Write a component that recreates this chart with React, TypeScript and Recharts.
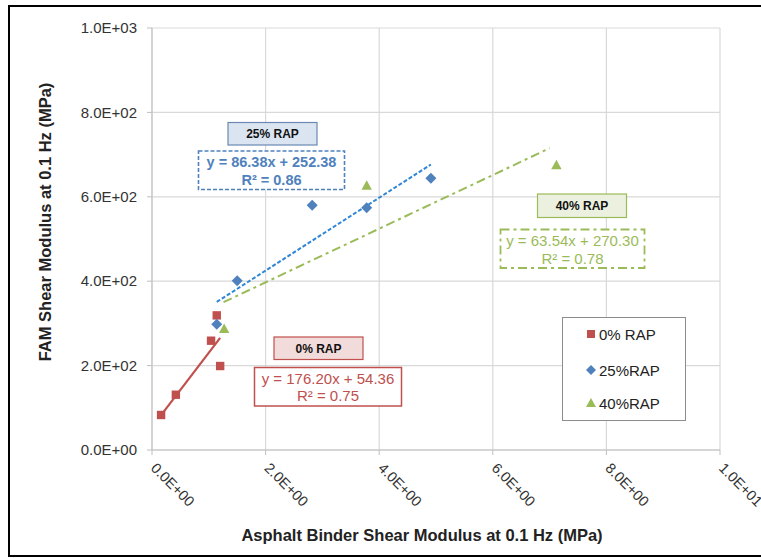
import React from 'react';
import { ScatterChart, Scatter, XAxis, YAxis, CartesianGrid, ReferenceLine, ZAxis } from 'recharts';

// ---- data ----
const rap0X = [0.16, 0.42, 1.04, 1.14, 1.2];
const rap0Y = [83, 131, 259, 319, 199];
const rap25X = [1.14, 1.5, 2.82, 3.78, 4.91];
const rap25Y = [298, 401, 580, 574, 644];
const rap40X = [1.27, 3.78, 7.12];
const rap40Y = [287, 626, 675];

const seriesNames = ['0% RAP', '25%RAP', '40%RAP'];
const trendSlope = [176.2, 86.38, 63.54];
const trendIntercept = [54.36, 252.38, 270.3];
const trendXStart = [0.16, 1.14, 1.26];
const trendXEnd = [1.2, 4.91, 7.0];

const xTicks = [0, 2, 4, 6, 8, 10];
const yTicks = [0, 200, 400, 600, 800, 1000];

const toPts = (xs: number[], ys: number[]) => xs.map((x, i) => ({ x, y: ys[i] }));
const d0 = toPts(rap0X, rap0Y);
const d25 = toPts(rap25X, rap25Y);
const d40 = toPts(rap40X, rap40Y);

const RED = '#c0504d';
const BLUE = '#4f81bd';
const BLUE_LINE = '#2f86d6';
const GREEN = '#9bbb59';
const FONT = '"Liberation Sans", Arial, sans-serif';

const fmtE = (v: number) => {
  if (v === 0) return '0.0E+00';
  const e = Math.floor(Math.log10(Math.abs(v)));
  const m = v / Math.pow(10, e);
  const es = (e < 0 ? '-' : '+') + String(Math.abs(e)).padStart(2, '0');
  return m.toFixed(1) + 'E' + es;
};

const XTick = (props: any) => {
  const { x, y, payload } = props;
  return (
    <g transform={`translate(${x - 2},${y + 12})`}>
      <text transform="rotate(45)" x={0} y={0} textAnchor="start" fontSize={14.5} fill="#333" fontFamily={FONT}>
        {fmtE(payload.value)}
      </text>
    </g>
  );
};

const YTick = (props: any) => {
  const { x, y, payload } = props;
  return (
    <text x={x} y={y} dy="0.35em" textAnchor="end" fontSize={15} fill="#333" fontFamily={FONT}>
      {fmtE(payload.value)}
    </text>
  );
};

const SquareShape = (p: any) => <rect x={p.cx - 4.2} y={p.cy - 4.2} width={8.4} height={8.4} fill={RED} />;
const DiamondShape = (p: any) => (
  <polygon points={`${p.cx},${p.cy - 5.5} ${p.cx + 5.5},${p.cy} ${p.cx},${p.cy + 5.5} ${p.cx - 5.5},${p.cy}`} fill={BLUE} />
);
const TriangleShape = (p: any) => (
  <polygon points={`${p.cx},${p.cy - 5.5} ${p.cx + 5.2},${p.cy + 4} ${p.cx - 5.2},${p.cy + 4}`} fill={GREEN} />
);

const trendLine = (i: number) => [
  { x: trendXStart[i], y: trendSlope[i] * trendXStart[i] + trendIntercept[i] },
  { x: trendXEnd[i], y: trendSlope[i] * trendXEnd[i] + trendIntercept[i] },
];

const LegendBox = () => (
  <div style={{ position: 'absolute', left: 562, top: 317, width: 124, height: 104, border: '1px solid #8c8c8c', boxSizing: 'border-box', background: '#fff', fontFamily: FONT, fontSize: 15, color: '#222' }}>
    {seriesNames.map((n, i) => (
      <div key={n} style={{ position: 'absolute', left: 22, top: [16, 52, 85][i] - 10, height: 20, display: 'flex', alignItems: 'center' }}>
        <svg width={12} height={12} style={{ marginRight: 2 }}>
          {i === 0 && <rect x={2} y={2} width={8} height={8} fill={RED} />}
          {i === 1 && <polygon points="6,1 11,6 6,11 1,6" fill={BLUE} />}
          {i === 2 && <polygon points="6,1 11,10 1,10" fill={GREEN} />}
        </svg>
        <span>{n}</span>
      </div>
    ))}
  </div>
);

export default function App() {
  return (
    <div style={{ position: 'absolute', left: 0, top: 0, width: 761, height: 558, background: '#fff' }}>
      <ScatterChart width={761} height={558} margin={{ top: 28, right: 41, bottom: 0, left: 0 }}>
        <CartesianGrid stroke="#d9d9d9" strokeWidth={1.2} />
        <XAxis
          type="number"
          dataKey="x"
          domain={[0, 10]}
          ticks={xTicks}
          interval={0}
          height={108}
          tickSize={5}
          tickMargin={2}
          stroke="#bfbfbf"
          tick={<XTick />}
        />
        <YAxis
          type="number"
          dataKey="y"
          domain={[0, 1000]}
          ticks={yTicks}
          interval={0}
          width={152}
          tickSize={5}
          tickMargin={10}
          stroke="#bfbfbf"
          tick={<YTick />}
        />
        <ZAxis range={[72, 72]} />
        <ReferenceLine segment={trendLine(0)} stroke={RED} strokeWidth={2.2} />
        <ReferenceLine segment={trendLine(1)} stroke={BLUE_LINE} strokeWidth={2} strokeDasharray="4 2" />
        <ReferenceLine segment={trendLine(2)} stroke={GREEN} strokeWidth={2} strokeDasharray="9 4 3 4" />
        <Scatter name={seriesNames[0]} data={d0} fill={RED} shape={<SquareShape />} isAnimationActive={false} />
        <Scatter name={seriesNames[1]} data={d25} fill={BLUE} shape={<DiamondShape />} isAnimationActive={false} />
        <Scatter name={seriesNames[2]} data={d40} fill={GREEN} shape={<TriangleShape />} isAnimationActive={false} />
      </ScatterChart>
      <svg width={761} height={558} style={{ position: 'absolute', left: 0, top: 0, pointerEvents: 'none' }} fontFamily={FONT}>
        {/* outer frame */}
        <line x1={8} y1={6} x2={761} y2={6} stroke="#000" strokeWidth={2} />
        <line x1={9} y1={5} x2={9} y2={557} stroke="#000" strokeWidth={2} />
        <line x1={8} y1={556} x2={761} y2={556} stroke="#000" strokeWidth={2} />
        {/* axis titles */}
        <text x={422} y={541} textAnchor="middle" fontSize={16.5} fontWeight="bold" fill="#222">
          Asphalt Binder Shear Modulus at 0.1 Hz (MPa)
        </text>
        <text transform="translate(51,222) rotate(-90)" textAnchor="middle" fontSize={16.5} fontWeight="bold" fill="#222">
          FAM Shear Modulus at 0.1 Hz (MPa)
        </text>
        {/* 25% RAP */}
        <rect x={228} y={122.5} width={89} height={22.5} fill="#dbe5f1" stroke="#6b88b3" strokeWidth={1.2} />
        <text x={272.5} y={134} textAnchor="middle" dominantBaseline="central" fontSize={12} fontWeight="bold" fill="#111">25% RAP</text>
        <rect x={198.5} y={151} width={146} height={38.5} fill="#fff" stroke={BLUE} strokeWidth={1.6} strokeDasharray="4 2" />
        <text x={271.5} y={162} textAnchor="middle" dominantBaseline="central" fontSize={14.5} fontWeight="bold" fill={BLUE}>y = 86.38x + 252.38</text>
        <text x={271.5} y={179.5} textAnchor="middle" dominantBaseline="central" fontSize={14.5} fontWeight="bold" fill={BLUE}>R² = 0.86</text>
        {/* 40% RAP */}
        <rect x={537.5} y={194} width={89} height={23.5} fill="#ebf1de" stroke={GREEN} strokeWidth={1.2} />
        <text x={582} y={206} textAnchor="middle" dominantBaseline="central" fontSize={12} fontWeight="bold" fill="#111">40% RAP</text>
        <rect x={500.5} y={229.5} width={144} height={38.5} fill="#fff" stroke={GREEN} strokeWidth={1.8} strokeDasharray="9 4 3 4" />
        <text x={572.5} y={240.5} textAnchor="middle" dominantBaseline="central" fontSize={15} fill={GREEN}>y = 63.54x + 270.30</text>
        <text x={572.5} y={258.5} textAnchor="middle" dominantBaseline="central" fontSize={15} fill={GREEN}>R² = 0.78</text>
        {/* 0% RAP */}
        <rect x={274} y={337} width={89} height={22.5} fill="#f2dcdb" stroke={RED} strokeWidth={1.2} />
        <text x={318.5} y={348.5} textAnchor="middle" dominantBaseline="central" fontSize={12} fontWeight="bold" fill="#111">0% RAP</text>
        <rect x={254.5} y={367.5} width={147} height={38.5} fill="#fff" stroke={RED} strokeWidth={1.5} />
        <text x={328} y={378.5} textAnchor="middle" dominantBaseline="central" fontSize={15} fill={RED}>y = 176.20x + 54.36</text>
        <text x={328} y={395.5} textAnchor="middle" dominantBaseline="central" fontSize={15} fill={RED}>R² = 0.75</text>
      </svg>
      <LegendBox />
    </div>
  );
}
